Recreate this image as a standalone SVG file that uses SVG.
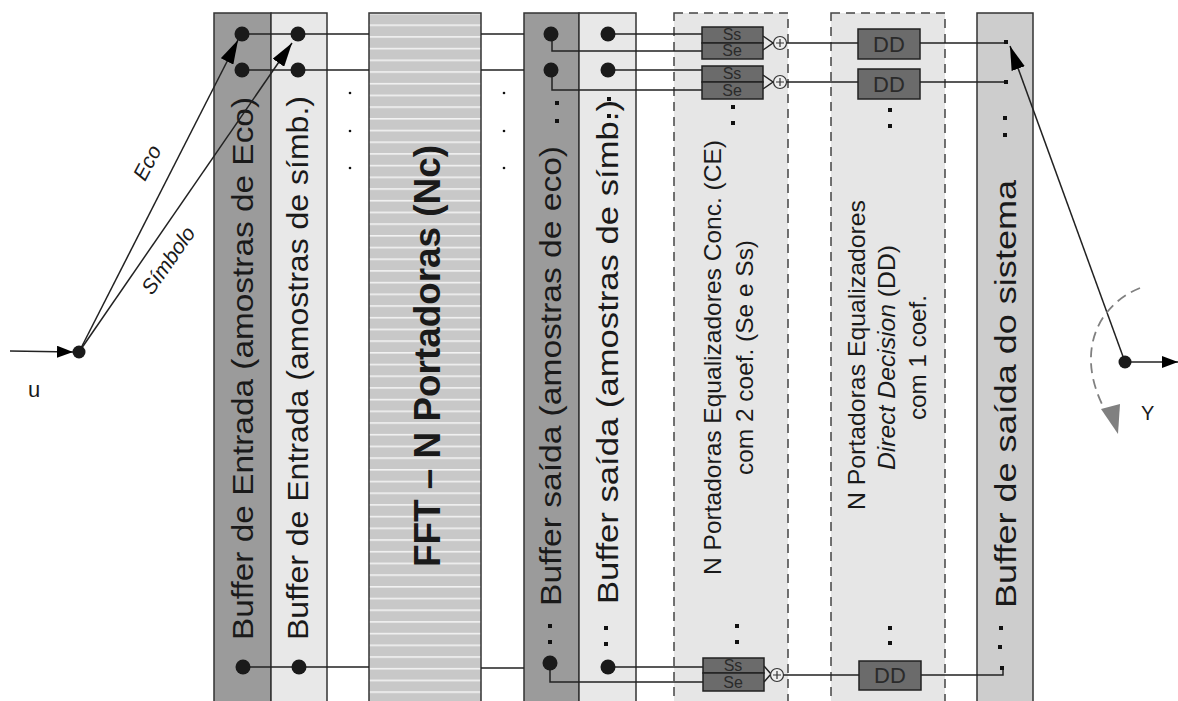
<svg xmlns="http://www.w3.org/2000/svg" width="1178" height="701" viewBox="0 0 1178 701">
<style>
text{font-family:"Liberation Sans",Arial,sans-serif;fill:#1a1a1a}
.col{stroke:#333;stroke-width:1.5}
.dark{fill:#9b9b9b}
.light{fill:#e8e8e8}
.dash{fill:#e6e6e6;stroke:#444;stroke-width:1.5;stroke-dasharray:9,6}
.out{fill:#cdcdcd}
.w{fill:none;stroke:#222;stroke-width:1.5}
.dot{fill:#1a1a1a}
.sq{fill:#111}
.eq{fill:#6b6b6b;stroke:#222;stroke-width:1.5}
.eqt{font-size:16px;fill:#2a2a2a;text-anchor:middle}
.ddt{font-size:22px;fill:#2a2a2a;text-anchor:middle}
.big{font-size:30px}
.mid{font-size:24px}
</style>
<defs>
<pattern id="stripes" patternUnits="userSpaceOnUse" x="0" y="1" width="10" height="11.7">
<rect width="10" height="11.7" fill="#c8c8c8"/>
<rect y="0" width="10" height="1.6" fill="#f2f2f2"/>
</pattern>
<marker id="aBig" viewBox="0 0 24 14" refX="24" refY="7" markerWidth="24" markerHeight="14" markerUnits="userSpaceOnUse" orient="auto"><path d="M0,0 L24,7 L0,14 z" fill="#000"/></marker>
<marker id="aSm" viewBox="0 0 16 12" refX="16" refY="6" markerWidth="16" markerHeight="12" markerUnits="userSpaceOnUse" orient="auto"><path d="M0,0 L16,6 L0,12 z" fill="#000"/></marker>
</defs>

<g id="buf-in-eco"><rect class="col dark" x="214" y="13" width="57" height="700"/>
<text class="big" transform="translate(253,640) rotate(-90)" textLength="543" lengthAdjust="spacingAndGlyphs">Buffer de Entrada (amostras de Eco)</text></g>
<g id="buf-in-simb"><rect class="col light" x="271" y="13" width="56" height="700"/>
<text class="big" transform="translate(308,640) rotate(-90)" textLength="544" lengthAdjust="spacingAndGlyphs">Buffer de Entrada (amostras de símb.)</text></g>
<g id="fft"><rect class="col" fill="url(#stripes)" x="369" y="13" width="112" height="700"/>
<text transform="translate(440,567) rotate(-90)" style="font-size:36px;font-weight:bold" textLength="422" lengthAdjust="spacingAndGlyphs">FFT – N Portadoras (Nc)</text></g>
<g id="buf-out-eco"><rect class="col dark" x="524" y="13" width="55" height="700"/>
<text class="big" transform="translate(561,606) rotate(-90)" textLength="460" lengthAdjust="spacingAndGlyphs">Buffer saída (amostras de eco)</text></g>
<g id="buf-out-simb"><rect class="col light" x="579" y="13" width="57" height="700"/>
<text class="big" transform="translate(618,604) rotate(-90)" textLength="504" lengthAdjust="spacingAndGlyphs">Buffer saída (amostras de símb.)</text></g>
<g id="ce"><rect class="dash" x="674" y="13" width="114" height="700"/>
<text class="mid" transform="translate(721,575) rotate(-90)" textLength="435" lengthAdjust="spacingAndGlyphs">N Portadoras Equalizadores Conc. (CE)</text>
<text class="mid" transform="translate(753,475) rotate(-90)" textLength="235" lengthAdjust="spacingAndGlyphs">com 2 coef. (Se e Ss)</text></g>
<g id="dd"><rect class="dash" x="831" y="13" width="114" height="700"/>
<text class="mid" transform="translate(865,510) rotate(-90)" textLength="310" lengthAdjust="spacingAndGlyphs">N Portadoras Equalizadores</text>
<text class="mid" transform="translate(895,470) rotate(-90)" textLength="225" lengthAdjust="spacingAndGlyphs"><tspan font-style="italic">Direct Decision</tspan> (DD)</text>
<text class="mid" transform="translate(926,420) rotate(-90)" textLength="125" lengthAdjust="spacingAndGlyphs">com 1 coef.</text></g>
<g id="buf-out-sys"><rect class="col out" x="977" y="13" width="56" height="700"/>
<text class="big" transform="translate(1016,608) rotate(-90)" textLength="428" lengthAdjust="spacingAndGlyphs">Buffer de saída do sistema</text></g>

<g id="connectors">
<path class="w" d="M242,34 H369 M242,70 H369 M243,667 H369 M481,34 H524 M481,70 H524 M481,668 H524"/>
<path class="w" d="M608,34 H702 M552,34 V51 H702 M608,70 H702 M552,70 V90 H702 M608,667 H703 M550,663 V682 H703"/>
<path class="w" d="M786,43 H858 M920,43 H1006 M786,82 H858 M920,82 H1006 M783,675 H859 M921,675 H1003 V668"/>
<path class="w" stroke-width="1.2" d="M763,36 L773,43 L763,50 M763,75 L773,82 L763,89 M764,666 L771,674 L764,682"/>
<line class="w" x1="10" y1="351" x2="73" y2="352" marker-end="url(#aSm)"/>
<line class="w" stroke-width="1.2" x1="79" y1="352" x2="238" y2="40" marker-end="url(#aBig)"/>
<line class="w" stroke-width="1.2" x1="79" y1="352" x2="292" y2="43" marker-end="url(#aBig)"/>
<line class="w" stroke-width="1.2" x1="1125" y1="362" x2="1010" y2="46" marker-end="url(#aBig)"/>
<line class="w" x1="1125" y1="362" x2="1178" y2="362" marker-end="url(#aSm)"/>
<path d="M1140,288 C1098,305 1074,352 1105,410" fill="none" stroke="#808080" stroke-width="1.8" stroke-dasharray="10,6"/>
<path d="M1101,409 L1118,434 L1120,404 z" fill="#808080"/>
</g>

<g id="eq-ce-1"><rect class="eq" x="702" y="27" width="61" height="16"/><rect class="eq" x="702" y="43" width="61" height="16"/>
<text class="eqt" x="732" y="40">Ss</text><text class="eqt" x="732" y="56">Se</text>
<circle cx="780" cy="43" r="6.5" fill="#eee" stroke="#333" stroke-width="1.2"/><path d="M776,43 H784 M780,39 V47" stroke="#333" stroke-width="1.2"/></g>
<g id="eq-ce-2"><rect class="eq" x="702" y="66" width="61" height="16"/><rect class="eq" x="702" y="82" width="61" height="17"/>
<text class="eqt" x="732" y="79">Ss</text><text class="eqt" x="732" y="96">Se</text>
<circle cx="780" cy="82" r="6.5" fill="#eee" stroke="#333" stroke-width="1.2"/><path d="M776,82 H784 M780,78 V86" stroke="#333" stroke-width="1.2"/></g>
<g id="eq-ce-n"><rect class="eq" x="703" y="658" width="61" height="15"/><rect class="eq" x="703" y="673" width="61" height="18"/>
<text class="eqt" x="733" y="671">Ss</text><text class="eqt" x="733" y="688">Se</text>
<circle cx="777" cy="675" r="6.5" fill="#eee" stroke="#333" stroke-width="1.2"/><path d="M773,675 H781 M777,671 V679" stroke="#333" stroke-width="1.2"/></g>
<g id="dd-1"><rect class="eq" x="858" y="29" width="62" height="30"/><text class="ddt" x="889" y="52">DD</text></g>
<g id="dd-2"><rect class="eq" x="858" y="69" width="62" height="30"/><text class="ddt" x="889" y="92">DD</text></g>
<g id="dd-n"><rect class="eq" x="859" y="661" width="62" height="29"/><text class="ddt" x="890" y="683">DD</text></g>

<g id="dots">
<circle class="dot" cx="242" cy="34" r="7.5"/><circle class="dot" cx="242" cy="70" r="7.5"/><circle class="dot" cx="243" cy="667" r="7.5"/>
<circle class="dot" cx="298" cy="34" r="7.5"/><circle class="dot" cx="298" cy="70" r="7.5"/><circle class="dot" cx="299" cy="667" r="7.5"/>
<circle class="dot" cx="551" cy="34" r="7.5"/><circle class="dot" cx="551" cy="70" r="7.5"/><circle class="dot" cx="550" cy="663" r="7.5"/>
<circle class="dot" cx="608" cy="34" r="7.5"/><circle class="dot" cx="608" cy="70" r="7.5"/><circle class="dot" cx="608" cy="667" r="7.5"/>
<circle class="dot" cx="79" cy="352" r="6.5"/><circle class="dot" cx="1125" cy="362" r="6.5"/>
<rect class="sq" x="1004" y="40" width="4" height="4"/><rect class="sq" x="1004" y="80" width="4" height="4"/><rect class="sq" x="1000" y="666" width="4" height="4"/>
<rect class="sq" x="555" y="101" width="4" height="4"/><rect class="sq" x="555" y="119" width="4" height="4"/>
<rect class="sq" x="607" y="97" width="4" height="4"/><rect class="sq" x="607" y="114" width="4" height="4"/>
<rect class="sq" x="731" y="105" width="4" height="4"/><rect class="sq" x="731" y="121" width="4" height="4"/>
<rect class="sq" x="888" y="108" width="4" height="4"/><rect class="sq" x="888" y="124" width="4" height="4"/>
<rect class="sq" x="1003" y="116" width="4" height="4"/><rect class="sq" x="1003" y="133" width="4" height="4"/>
<rect class="sq" x="548" y="624" width="4" height="4"/><rect class="sq" x="548" y="640" width="4" height="4"/>
<rect class="sq" x="604" y="626" width="4" height="4"/><rect class="sq" x="604" y="642" width="4" height="4"/>
<rect class="sq" x="735" y="624" width="4" height="4"/><rect class="sq" x="735" y="640" width="4" height="4"/>
<rect class="sq" x="888" y="626" width="4" height="4"/><rect class="sq" x="888" y="641" width="4" height="4"/>
<rect class="sq" x="999" y="626" width="4" height="4"/><rect class="sq" x="998" y="645" width="4" height="4"/>
<circle class="sq" cx="350" cy="93" r="1.3"/><circle class="sq" cx="350" cy="131" r="1.3"/><circle class="sq" cx="350" cy="168" r="1.3"/>
<circle class="sq" cx="504" cy="93" r="1.3"/><circle class="sq" cx="504" cy="131" r="1.3"/><circle class="sq" cx="504" cy="168" r="1.3"/>
</g>

<g id="labels">
<text x="28" y="397" style="font-size:22px">u</text>
<text x="1141" y="420" style="font-size:20px">Y</text>
<text transform="translate(145,182) rotate(-62)" style="font-size:21px;font-style:italic">Eco</text>
<text transform="translate(152,296) rotate(-55)" style="font-size:21px;font-style:italic">Símbolo</text>
</g>
</svg>
